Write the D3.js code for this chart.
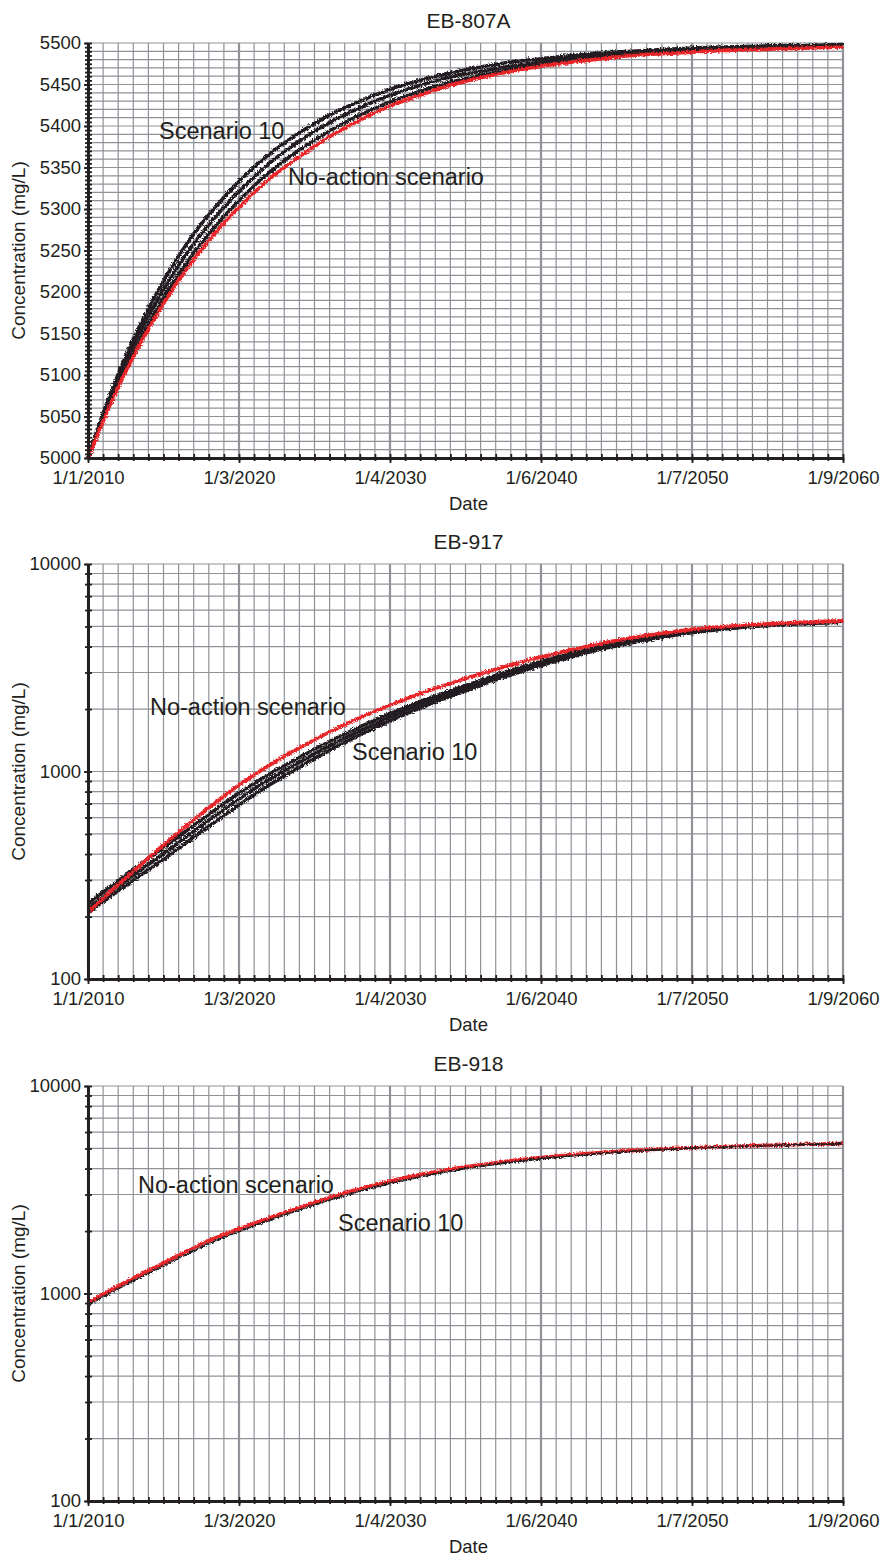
<!DOCTYPE html>
<html>
<head>
<meta charset="utf-8">
<script src="https://cdn.jsdelivr.net/npm/d3@7/dist/d3.min.js"></script>
<style>
    body { margin: 0; background: #fff; }
    text { font-family: 'Liberation Sans', Arial, sans-serif; fill: #231f20; }
</style>
</head>
<body>
<svg width="891" height="1558"></svg>
<script>
(function() {
    // years since 1/1/2010
    const years = [0, 1, 2, 3, 4, 5, 6, 7, 8, 9, 10, 12, 14, 16, 18, 20, 22, 24, 26, 28, 30, 32, 34, 36, 38, 40, 42, 44, 46, 48, 50]
    const xTickLabels = ['1/1/2010', '1/3/2020', '1/4/2030', '1/6/2040', '1/7/2050', '1/9/2060']
    const titles = ['EB-807A', 'EB-917', 'EB-918']

    // EB-807A
    const eb807aNoAction = [5000, 5044, 5085, 5122, 5155, 5186, 5214, 5239, 5262, 5283, 5302, 5336, 5363, 5387, 5407, 5424, 5437, 5449, 5458, 5466, 5472, 5477, 5481, 5485, 5487, 5489, 5491, 5492, 5493, 5494, 5495]
    const eb807aScen10Hi = [5000, 5054, 5101, 5143, 5180, 5213, 5243, 5270, 5293, 5314, 5333, 5366, 5392, 5413, 5430, 5444, 5455, 5464, 5471, 5477, 5481, 5485, 5488, 5490, 5492, 5494, 5495, 5496, 5497, 5497, 5498]
    const eb807aScen10Mid = [5000, 5050, 5095, 5135, 5171, 5203, 5232, 5258, 5281, 5302, 5321, 5355, 5382, 5404, 5422, 5437, 5449, 5459, 5466, 5472, 5477, 5482, 5485, 5488, 5490, 5492, 5493, 5494, 5495, 5496, 5497]
    const eb807aScen10Lo = [5000, 5046, 5088, 5126, 5161, 5193, 5221, 5247, 5270, 5291, 5310, 5344, 5371, 5394, 5413, 5429, 5442, 5453, 5461, 5468, 5474, 5479, 5483, 5486, 5489, 5491, 5492, 5493, 5494, 5495, 5496]

    // EB-917
    const eb917NoAction = [210, 245, 285, 330, 383, 443, 510, 585, 668, 760, 860, 1070, 1300, 1550, 1820, 2090, 2370, 2660, 2960, 3260, 3560, 3860, 4150, 4410, 4640, 4840, 4990, 5100, 5190, 5260, 5320]
    const eb917Scen10Hi = [232, 262, 297, 336, 380, 430, 486, 550, 621, 699, 785, 970, 1170, 1395, 1640, 1900, 2170, 2450, 2750, 3070, 3390, 3700, 4000, 4280, 4520, 4730, 4900, 5040, 5140, 5215, 5275]
    const eb917Scen10Mid = [220, 248, 280, 316, 356, 402, 455, 515, 582, 656, 737, 915, 1110, 1330, 1570, 1830, 2100, 2380, 2680, 3000, 3320, 3640, 3950, 4230, 4480, 4700, 4880, 5020, 5120, 5200, 5260]
    const eb917Scen10Lo = [208, 236, 266, 299, 336, 378, 426, 482, 545, 614, 690, 860, 1050, 1265, 1500, 1755, 2025, 2305, 2605, 2925, 3245, 3570, 3890, 4170, 4430, 4660, 4850, 5000, 5100, 5180, 5240]

    // EB-918
    const eb918NoAction = [900, 990, 1085, 1185, 1290, 1400, 1530, 1660, 1800, 1925, 2050, 2310, 2600, 2900, 3200, 3480, 3740, 3970, 4170, 4360, 4520, 4660, 4780, 4880, 4970, 5040, 5100, 5150, 5200, 5240, 5280]
    const eb918Scen10 = [880, 965, 1055, 1150, 1250, 1360, 1480, 1605, 1740, 1865, 1990, 2250, 2530, 2820, 3110, 3390, 3650, 3890, 4100, 4290, 4460, 4610, 4740, 4850, 4940, 5020, 5080, 5140, 5190, 5230, 5270]

    const svg = d3.select('svg')
    const left = 88, right = 843, plotH = 415
    const tops = [43, 564, 1086]
    const black = '#231f20', red = '#e8262b', gridColor = '#8f9398'

    const defs = svg.append('defs')
    const filter = defs.append('filter')
        .attr('id', 'jitter')
        .attr('filterUnits', 'userSpaceOnUse')
        .attr('x', 0).attr('y', 0).attr('width', 891).attr('height', 1558)
    filter.append('feTurbulence')
        .attr('type', 'fractalNoise').attr('baseFrequency', 0.6)
        .attr('numOctaves', 2).attr('seed', 4).attr('result', 'noise')
    filter.append('feDisplacementMap')
        .attr('in', 'SourceGraphic').attr('in2', 'noise')
        .attr('scale', 4.5).attr('xChannelSelector', 'R').attr('yChannelSelector', 'G')

    const x = d3.scaleLinear().domain([0, 50]).range([left, right])
    const yearTicks = d3.range(0, 51)

    const panels = [
        {
            log: false, domain: [5000, 5500],
            labels: d3.range(5000, 5501, 50), grid: d3.range(5000, 5501, 10), minor: d3.range(5000, 5501, 5),
            black: [eb807aScen10Hi, eb807aScen10Mid, eb807aScen10Lo], red: eb807aNoAction, redFirst: false,
            notes: [['Scenario 10', 159, 131], ['No-action scenario', 288, 177]]
        },
        {
            log: true, domain: [100, 10000],
            labels: [100, 1000, 10000], grid: logTicks(), minor: logTicks(),
            black: [eb917Scen10Hi, eb917Scen10Mid, eb917Scen10Lo], red: eb917NoAction, redFirst: false,
            notes: [['No-action scenario', 150, 707], ['Scenario 10', 352, 752]]
        },
        {
            log: true, domain: [100, 10000],
            labels: [100, 1000, 10000], grid: logTicks(), minor: logTicks(),
            black: [eb918Scen10], red: eb918NoAction, redFirst: true,
            notes: [['No-action scenario', 138, 1185], ['Scenario 10', 338, 1223]]
        }
    ]

    function logTicks() {
        let t = []
        for (let d of [100, 1000]) for (let k = 1; k < 10; k++) t.push(d * k)
        t.push(10000)
        return t
    }

    panels.forEach((p, i) => {
        const top = tops[i], bottom = top + plotH
        const y = (p.log ? d3.scaleLog() : d3.scaleLinear()).domain(p.domain).range([bottom, top])
        const g = svg.append('g')

        // grid
        g.append('g').selectAll('line').data(p.grid).enter().append('line')
            .attr('x1', left).attr('x2', right)
            .attr('y1', d => y(d)).attr('y2', d => y(d))
            .attr('stroke', gridColor).attr('stroke-width', 1.2)
        g.append('g').selectAll('line').data(yearTicks).enter().append('line')
            .attr('x1', d => x(d)).attr('x2', d => x(d))
            .attr('y1', top).attr('y2', bottom)
            .attr('stroke', gridColor)
            .attr('stroke-width', d => d % 10 === 0 ? 2.2 : 1.2)

        // series
        const line = d3.line()
            .x((d, j) => x(years[j]))
            .y(d => y(d))
            .curve(d3.curveMonotoneX)
        const drawRed = () => g.append('path').datum(p.red)
            .attr('d', line).attr('fill', 'none')
            .attr('stroke', red).attr('stroke-width', 3.6)
            .attr('filter', 'url(#jitter)')
        const drawBlack = () => p.black.forEach(s => g.append('path').datum(s)
            .attr('d', line).attr('fill', 'none')
            .attr('stroke', black).attr('stroke-width', p.black.length > 1 ? 3.6 : 1.8)
            .attr('filter', 'url(#jitter)'))
        if (p.redFirst) { drawRed(); drawBlack() } else { drawBlack(); drawRed() }

        // axes
        const yAxis = d3.axisLeft(y).tickValues(p.labels).tickSize(4).tickSizeOuter(0).tickPadding(3)
            .tickFormat(d3.format('d'))
        const yAxisIn = d3.axisLeft(y).tickValues(p.minor).tickSize(-4).tickSizeOuter(0).tickFormat('')
        const yAxisOut = d3.axisLeft(y).tickValues(p.minor).tickSize(3).tickSizeOuter(0).tickFormat('')
        const xAxis = d3.axisBottom(x).tickValues(d3.range(0, 51, 10)).tickSize(5).tickSizeOuter(0).tickPadding(8)
            .tickFormat(d => xTickLabels[d / 10])
        const xAxisIn = d3.axisBottom(x).tickValues(yearTicks).tickSize(-4).tickSizeOuter(0).tickFormat('')
        const xAxisOut = d3.axisBottom(x).tickValues(yearTicks).tickSize(3).tickSizeOuter(0).tickFormat('')

        const styleAxis = a => {
            a.select('.domain').attr('stroke', black).attr('stroke-width', 2.6)
            a.selectAll('.tick line').attr('stroke', black).attr('stroke-width', 1.8)
            a.selectAll('text').style('font-size', '18.5px').attr('fill', black)
        }
        g.append('g').attr('transform', `translate(${left},0)`).call(yAxisIn).call(styleAxis)
        g.append('g').attr('transform', `translate(${left},0)`).call(yAxisOut).call(styleAxis)
        g.append('g').attr('transform', `translate(${left},0)`).call(yAxis).call(styleAxis)
        g.append('g').attr('transform', `translate(0,${bottom})`).call(xAxisIn).call(styleAxis)
        g.append('g').attr('transform', `translate(0,${bottom})`).call(xAxisOut).call(styleAxis)
        g.append('g').attr('transform', `translate(0,${bottom})`).call(xAxis).call(styleAxis)

        // titles
        g.append('text').attr('x', (left + right) / 2 + 3).attr('y', top - 15)
            .attr('text-anchor', 'middle').style('font-size', '21px').text(titles[i])
        g.append('text').attr('x', (left + right) / 2 + 3).attr('y', bottom + 52)
            .attr('text-anchor', 'middle').style('font-size', '18.5px').text('Date')
        g.append('text').attr('transform', `translate(25,${top + plotH / 2}) rotate(-90)`)
            .attr('text-anchor', 'middle').style('font-size', '19px').text('Concentration (mg/L)')

        // annotations
        p.notes.forEach(n => g.append('text').attr('x', n[1]).attr('y', n[2] + 8)
            .style('font-size', '23.5px').text(n[0]))
    })
})()
</script>
</body>
</html>
